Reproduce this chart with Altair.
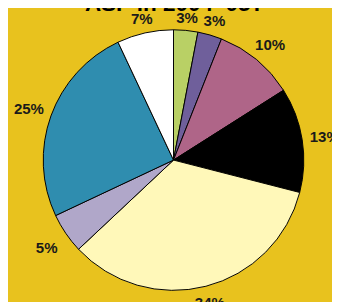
import altair as alt
import pandas as pd

labels = ["3%", "3%", "10%", "13%", "34%", "5%", "25%", "7%"]
values = [3, 3, 10, 13, 34, 5, 25, 7]
colors = ["#B9D065", "#6F5F9B", "#AF6588", "#000000", "#FFF8B9", "#B0A7C9", "#2F8DAF", "#FFFFFF"]
title_text = "ASP in 2004–05?"

BG = "#E8C21E"

df = pd.DataFrame({
    "order": list(range(len(values))),
    "label": labels,
    "value": values,
    "color": colors,
})

W, H = 332, 294
CX, CY = 169.6, 152.2
R = 133.5

base = alt.Chart(df).encode(
    theta=alt.Theta("value:Q", stack=True),
    order=alt.Order("order:Q"),
)

pie = base.mark_arc(radius=R, stroke="#000000", strokeWidth=1).encode(
    color=alt.Color("color:N", scale=None),
    x=alt.value(CX), y=alt.value(CY),
)

text = alt.Chart(df).transform_window(
    cum="sum(value)", sort=[alt.SortField("order")],
    frame=[None, 0],
).transform_joinaggregate(
    total="sum(value)"
).transform_calculate(
    mid="(datum.cum - datum.value / 2) / datum.total * 2 * PI",
).transform_calculate(
    r="138 + 7.5 * abs(cos(datum.mid)) + 18 * abs(sin(datum.mid))",
).mark_text(font="Liberation Sans", fontWeight="bold", fontSize=15.4,
            color="#1a1a1a", align="center", baseline="middle", dy=1.5).encode(
    text="label:N",
    theta=alt.Theta("mid:Q", scale=None, stack=None),
    radius=alt.Radius("r:Q", scale=None, stack=None),
    x=alt.value(CX), y=alt.value(CY),
)

title = alt.Chart(pd.DataFrame({"t": [title_text]})).mark_text(
    font="Liberation Sans", fontWeight="bold", fontSize=23, color="#000000",
    align="center", baseline="alphabetic").encode(
    text="t:N", x=alt.value(170.6), y=alt.value(-0.5),
)

chart = alt.layer(pie, text, title).properties(
    width=W, height=H, background=BG,
    padding=0, autosize=alt.AutoSizeParams(type="none"),
).configure_view(stroke=None)

chart.save("out.html", embed_options={"renderer": "svg", "actions": False})
